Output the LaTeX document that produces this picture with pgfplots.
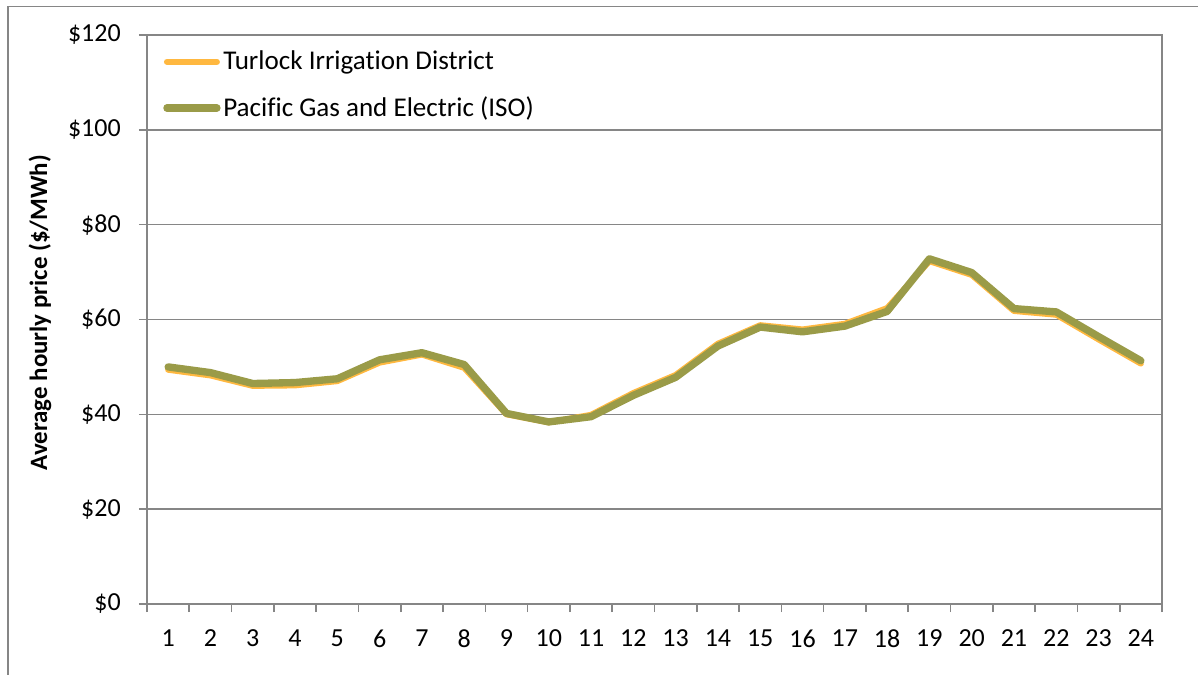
\documentclass[border=0pt]{standalone}
\usepackage{pgfplots}
\pgfplotsset{compat=1.18}
\usepackage{fontspec}
\setmainfont{Carlito}[Ligatures={NoCommon}]
\definecolor{tid}{RGB}{255,184,64}
\definecolor{pge}{RGB}{154,155,72}
\definecolor{axgray}{RGB}{134,134,134}
\begin{document}
\fontsize{18}{21.6}\selectfont
\begin{tikzpicture}
\begin{axis}[
  at={(0,0)}, anchor=south west, scale only axis,
  width=761.25pt, height=426.75pt,
  xmin=0.5, xmax=24.5, ymin=0, ymax=120,
  axis line style={axgray, line width=1.4pt},
  every tick/.style={axgray, line width=1.2pt},
  tick align=outside, major tick length=6pt,
  xtick pos=left, ytick pos=left,
  ytick={0,20,...,120},
  yticklabels={\$0,\$20,\$40,\$60,\$80,\$100,\$120},
  yticklabel style={xshift=-7.5pt},
  ymajorgrids, grid style={axgray, line width=1.1pt},
  xtick={0.5,1.5,...,24.5}, xticklabel=\empty,
  extra x ticks={1,2,3,4,5,6,7,8,9,10,11,12,13,14,15,16,17,18,19,20,21,22,23,24},
  extra x tick labels={1,2,3,4,5,6,7,8,9,10,11,12,13,14,15,16,17,18,19,20,21,22,23,24},
  extra x tick style={major tick length=0pt, grid=none, xticklabel style={yshift=-13pt}},
  tick label style={font=\fontsize{19.5}{23}\selectfont},
  every axis y label/.style={at={(axis description cs:-0.1054,0.512)}, rotate=90, anchor=center, font=\fontsize{18.7}{22}\selectfont\bfseries},
  ylabel={Average hourly price (\$/MWh)},
  legend style={draw=none, fill=none, at={(rel axis cs:0,1)}, anchor=north west, xshift=12pt, yshift=-11.5pt, inner sep=0pt, row sep=17.5pt, column sep=2pt, font=\fontsize{20.3}{24}\selectfont, nodes={inner sep=0pt}},
  legend cell align=left,
  legend image code/.code={\draw[#1, line cap=round] (0pt,0pt) -- (37.5pt,0pt);},
]
\addplot[tid, line width=4.5pt, line join=round, line cap=round] coordinates {
(1,49.4)(2,48.2)(3,46.0)(4,46.1)(5,47.0)(6,50.9)(7,52.6)(8,49.8)(9,40.0)(10,38.3)(11,39.9)(12,44.5)
(13,48.3)(14,54.9)(15,58.8)(16,57.9)(17,59.1)(18,62.4)(19,72.3)(20,69.4)(21,61.8)(22,61.0)(23,55.8)(24,50.7)};
\addlegendentry{Turlock Irrigation District}
\addplot[pge, line width=5.5pt, line join=round, line cap=round] coordinates {
(1,50.0)(2,48.8)(3,46.5)(4,46.7)(5,47.5)(6,51.5)(7,53.0)(8,50.5)(9,40.2)(10,38.4)(11,39.5)(12,44.0)
(13,47.8)(14,54.4)(15,58.4)(16,57.4)(17,58.6)(18,61.7)(19,72.8)(20,69.9)(21,62.3)(22,61.6)(23,56.4)(24,51.3)};
\addlegendentry{Pacific Gas and Electric (ISO)}
\end{axis}
\draw[axgray, line width=1.1pt] (-104.25pt,-60pt) -- (-104.25pt,448pt) -- (795pt,448pt);
\pgfresetboundingbox
\useasboundingbox (-110.25pt,-52.5pt) rectangle (788.25pt,453pt);
\end{tikzpicture}
\end{document}
